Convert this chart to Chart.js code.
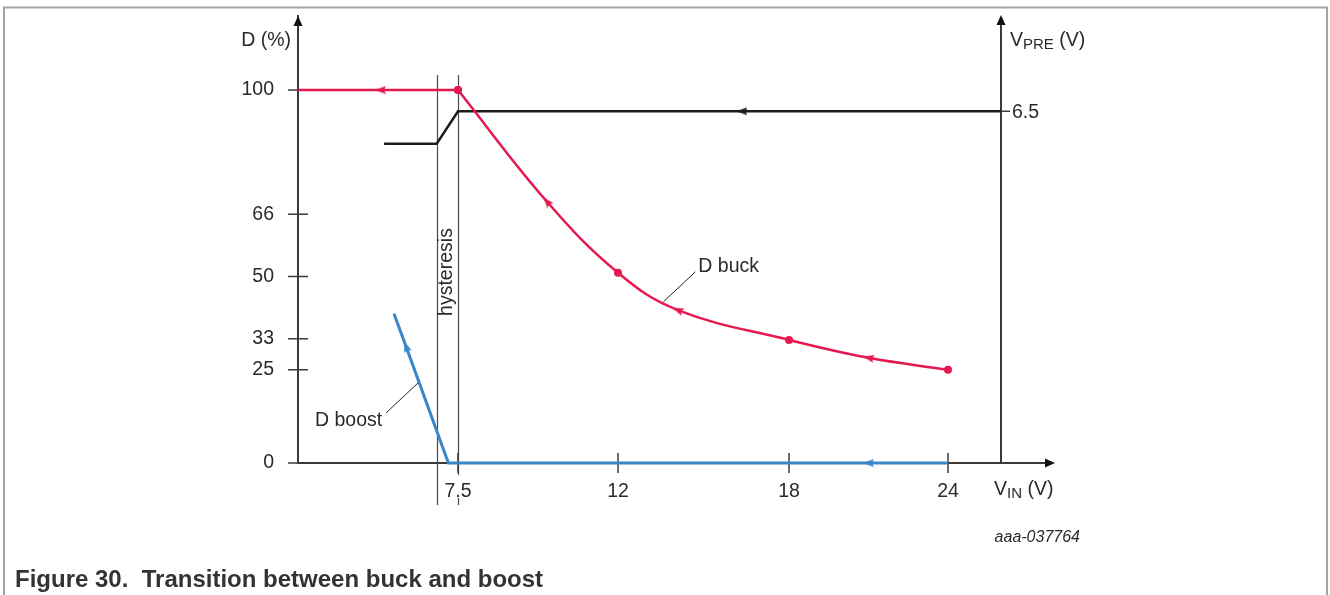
<!DOCTYPE html>
<html>
<head>
<meta charset="utf-8">
<script src="https://cdn.jsdelivr.net/npm/chart.js@4.4.1/dist/chart.umd.min.js"></script>
<style>
  html, body { margin: 0; padding: 0; background: #fff; }
  #wrap { position: relative; width: 1330px; height: 595px; }
</style>
</head>
<body>
<div id="wrap"><canvas id="buck-boost" width="1330" height="595"></canvas></div>
<script>
// V_IN in volts, D in %, V_PRE in volts
const vinTicks = [7.5, 12, 18, 24];
const dTicks = [0, 25, 33.3, 50, 66.7, 100];
const dTickLabels = ["0", "25", "33", "50", "66", "100"];
const vpreTicks = [6.5];
const vpreAxisAt = 26;

const buckFlatV = [3, 5.32, 7.5];
const buckFlatD = [100, 100, 100];
const buckFlatMark = [null, "arrow", "dot"];

const buckV = [7.5, 10.0, 12, 14.1, 18, 21.0, 24];
const buckD = [100, 70.1, 51, 41.0, 33, 28.2, 25];
const buckMark = ["dot", "arrow", "dot", "arrow", "dot", "arrow", "dot"];

const boostV = [5.7, 6.04, 7.23, 21, 24];
const boostD = [40, 31.2, 0, 0, 0];
const boostMark = [null, "arrow", null, "arrow", null];

const vpreV = [5.42, 6.9, 7.5, 16.35, 26];
const vpreVal = [5.9, 5.9, 6.5, 6.5, 6.5];
const vpreMark = [null, null, null, "arrow", null];

const hysteresisV = [6.9, 7.5];

// the drawing's V_IN axis is not to scale: volts -> pixel offset along the axis
const xKnots = [[3, 0], [7.5, 160], [12, 320], [18, 491], [24, 650], [26, 703], [28, 752]];

const FONT = '"Liberation Sans", Arial, sans-serif';
const textColor = '#2a2a2a';
const axisColor = '#3a3a3a';
const red = '#e5194f', blue = '#3a86c8', black = '#1c1c1c';

class WarpScale extends Chart.LinearScale {
  static id = 'warp';
  static defaults = Chart.LinearScale.defaults;
  warp(v) {
    const total = xKnots[xKnots.length - 1][1];
    let i = 1;
    while (i < xKnots.length - 1 && v > xKnots[i][0]) i++;
    const [v0, p0] = xKnots[i - 1], [v1, p1] = xKnots[i];
    const off = p0 + (v - v0) / (v1 - v0) * (p1 - p0);
    return this.min + off / total * (this.max - this.min);
  }
  getPixelForValue(v) {
    return super.getPixelForValue(this.warp(v));
  }
}
Chart.register(WarpScale);

function arrowHead(color) {
  const c = document.createElement('canvas');
  c.width = 9; c.height = 11;
  const g = c.getContext('2d');
  g.fillStyle = color;
  g.beginPath();
  g.moveTo(4.5, 0);
  g.lineTo(8.5, 11);
  g.lineTo(4.5, 9);
  g.lineTo(0.5, 11);
  g.closePath();
  g.fill();
  return c;
}

// arrows point back along the series (towards lower V_IN)
function arrowAngle(ctx) {
  const d = ctx.dataset.data, i = ctx.dataIndex;
  const meta = ctx.chart.getDatasetMeta(ctx.datasetIndex);
  const xs = ctx.chart.scales[meta.xAxisID], ys = ctx.chart.scales[meta.yAxisID];
  const a = d[i - 1] || d[i], b = d[i + 1] || d[i];
  const dx = xs.getPixelForValue(a.x) - xs.getPixelForValue(b.x);
  const dy = ys.getPixelForValue(a.y) - ys.getPixelForValue(b.y);
  return Math.atan2(dx, -dy) * 180 / Math.PI;
}

function series(xs, ys, marks, color, extra) {
  const img = arrowHead(color);
  return Object.assign({
    data: xs.map((v, i) => ({x: v, y: ys[i]})),
    borderColor: color,
    backgroundColor: color,
    borderWidth: 2.5,
    tension: 0,
    clip: false,
    pointStyle: c => marks[c.dataIndex] === 'arrow' ? img : 'circle',
    pointRadius: c => marks[c.dataIndex] ? 4 : 0,
    pointRotation: c => marks[c.dataIndex] === 'arrow' ? arrowAngle(c) : 0,
    pointBorderWidth: 0,
    pointBackgroundColor: color
  }, extra || {});
}

function subText(ctx, x, y, main, sub, rest) {
  ctx.textAlign = 'left';
  ctx.textBaseline = 'alphabetic';
  ctx.font = '19.5px ' + FONT;
  ctx.fillText(main, x, y);
  x += ctx.measureText(main).width;
  ctx.font = '15px ' + FONT;
  ctx.fillText(sub, x, y + 3);
  x += ctx.measureText(sub).width;
  ctx.font = '19.5px ' + FONT;
  ctx.fillText(rest, x, y);
}

function arrow(ctx, tx, ty, dir) {
  ctx.beginPath();
  if (dir === 'up') {
    ctx.moveTo(tx, ty); ctx.lineTo(tx + 4.5, ty + 10); ctx.lineTo(tx - 4.5, ty + 10);
  } else {
    ctx.moveTo(tx, ty); ctx.lineTo(tx - 10, ty - 4.5); ctx.lineTo(tx - 10, ty + 4.5);
  }
  ctx.closePath();
  ctx.fill();
}

const decorations = {
  id: 'decorations',
  beforeDatasetsDraw(chart) {
    const {ctx, chartArea: a} = chart;
    const {x, y, y2} = chart.scales;
    ctx.save();
    // frame
    ctx.strokeStyle = '#a3a3a3';
    ctx.lineWidth = 2;
    ctx.beginPath();
    ctx.moveTo(4, 595); ctx.lineTo(4, 7.5); ctx.lineTo(1327, 7.5); ctx.lineTo(1327, 595);
    ctx.stroke();

    // hysteresis band, broken where it meets a tick label
    ctx.strokeStyle = '#4a4a4a';
    ctx.lineWidth = 1.2;
    hysteresisV.forEach(v => {
      const px = Math.round(x.getPixelForValue(v)) + 0.5;
      ctx.beginPath();
      ctx.moveTo(px, a.top + 59);
      if (vinTicks.includes(v)) {
        ctx.lineTo(px, a.bottom + 12);
        ctx.moveTo(px, a.bottom + 35);
      }
      ctx.lineTo(px, a.bottom + 42);
      ctx.stroke();
    });

    // tick marks crossing the axes
    ctx.strokeStyle = axisColor;
    ctx.lineWidth = 1.5;
    x.ticks.forEach(t => {
      const px = x.getPixelForValue(t.value);
      ctx.beginPath(); ctx.moveTo(px, a.bottom - 10); ctx.lineTo(px, a.bottom + 10); ctx.stroke();
    });
    y.ticks.forEach(t => {
      const py = y.getPixelForValue(t.value);
      ctx.beginPath(); ctx.moveTo(a.left - 10, py); ctx.lineTo(a.left + 10, py); ctx.stroke();
    });

    // right V_PRE axis
    const rx = x.getPixelForValue(vpreAxisAt);
    ctx.lineWidth = 2;
    ctx.beginPath(); ctx.moveTo(rx, a.bottom); ctx.lineTo(rx, a.top + 4); ctx.stroke();
    vpreTicks.forEach(v => {
      const py = y2.getPixelForValue(v);
      ctx.lineWidth = 1.5;
      ctx.beginPath(); ctx.moveTo(rx, py); ctx.lineTo(rx + 9, py); ctx.stroke();
    });

    // axis arrows
    ctx.fillStyle = '#111';
    arrow(ctx, a.left, a.top, 'up');
    arrow(ctx, rx, a.top - 1, 'up');
    arrow(ctx, a.right + 5, a.bottom, 'right');
    ctx.restore();
  },
  afterDraw(chart) {
    const {ctx, chartArea: a} = chart;
    const {x, y, y2} = chart.scales;
    const rx = x.getPixelForValue(vpreAxisAt);
    ctx.save();
    ctx.fillStyle = textColor;

    // axis titles
    ctx.font = '19.5px ' + FONT;
    ctx.textAlign = 'right';
    ctx.textBaseline = 'alphabetic';
    ctx.fillText('D (%)', a.left - 7, a.top + 30);
    subText(ctx, rx + 9, a.top + 30, 'V', 'PRE', ' (V)');
    subText(ctx, a.right - 56, a.bottom + 32, 'V', 'IN', ' (V)');

    ctx.font = '19.5px ' + FONT;
    ctx.textAlign = 'left';
    ctx.textBaseline = 'middle';
    vpreTicks.forEach(v => ctx.fillText(String(v), rx + 11, y2.getPixelForValue(v) + 1));

    // hysteresis label
    const hx = (x.getPixelForValue(hysteresisV[0]) + x.getPixelForValue(hysteresisV[1])) / 2;
    ctx.save();
    ctx.translate(hx + 5, 272);
    ctx.rotate(-Math.PI / 2);
    ctx.textAlign = 'center';
    ctx.textBaseline = 'alphabetic';
    ctx.fillText('hysteresis', 0, 0);
    ctx.restore();

    // series labels with leader lines
    const notes = [
      {text: 'D buck', v: 13.59, d: 43.2, dx: 32, dy: -30, tx: 35, ty: -30, align: 'left', scale: y},
      {text: 'D boost', v: 6.38, d: 21.5, dx: -32, dy: 30, tx: -36, ty: 43, align: 'right', scale: y}
    ];
    notes.forEach(n => {
      const px = x.getPixelForValue(n.v), py = n.scale.getPixelForValue(n.d);
      ctx.strokeStyle = '#222';
      ctx.lineWidth = 1;
      ctx.beginPath(); ctx.moveTo(px, py); ctx.lineTo(px + n.dx, py + n.dy); ctx.stroke();
      ctx.textAlign = n.align;
      ctx.textBaseline = 'alphabetic';
      ctx.fillText(n.text, px + n.tx, py + n.ty);
    });

    // figure id and caption
    ctx.font = 'italic 16px ' + FONT;
    ctx.textAlign = 'right';
    ctx.fillText('aaa-037764', 1080, 542);
    ctx.font = 'bold 24px ' + FONT;
    ctx.fillStyle = '#333';
    ctx.textAlign = 'left';
    ctx.fillText('Figure 30.  Transition between buck and boost', 15, 587);
    ctx.restore();
  }
};

new Chart(document.getElementById('buck-boost'), {
  type: 'line',
  data: {
    datasets: [
      series(buckV, buckD, buckMark, red, {tension: 0.4}),
      series(buckFlatV, buckFlatD, buckFlatMark, red),
      series(boostV, boostD, boostMark, blue, {borderWidth: 3}),
      series(vpreV, vpreVal, vpreMark, black, {yAxisID: 'y2'})
    ]
  },
  options: {
    responsive: false,
    animation: false,
    events: [],
    layout: { padding: { top: 16, left: 0, right: 280, bottom: 0 } },
    plugins: { legend: { display: false }, tooltip: { enabled: false } },
    scales: {
      x: {
        type: 'warp',
        min: 3,
        max: 28,
        afterBuildTicks: s => { s.ticks = vinTicks.map(v => ({value: v})); },
        afterFit: s => { s.height = 132; s.paddingLeft = 0; s.paddingRight = 0; },
        grid: { display: false },
        border: { display: true, color: axisColor, width: 2 },
        ticks: {
          color: textColor, padding: 9, autoSkip: false, maxRotation: 0,
          font: { family: FONT, size: 19.5 },
          callback: v => String(v)
        }
      },
      y: {
        type: 'linear',
        min: 0,
        max: 119.84,
        afterBuildTicks: s => { s.ticks = dTicks.map(v => ({value: v})); },
        afterFit: s => { s.width = 298; s.paddingTop = 0; s.paddingBottom = 0; },
        grid: { display: false },
        border: { display: true, color: axisColor, width: 2 },
        ticks: {
          color: textColor, padding: 16, autoSkip: false,
          font: { family: FONT, size: 19.5 },
          callback: (v, i) => dTickLabels[i]
        }
      },
      y2: {
        type: 'linear',
        display: false,
        position: 'right',
        min: 0,
        max: 8.26
      }
    }
  },
  plugins: [decorations]
});
</script>
</body>
</html>
